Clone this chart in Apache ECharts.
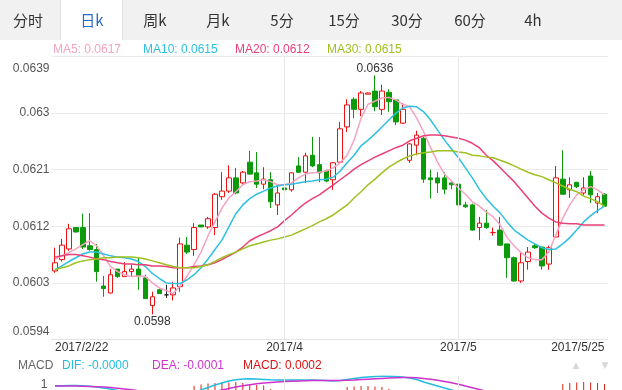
<!DOCTYPE html>
<html><head><meta charset="utf-8">
<script src="https://cdn.jsdelivr.net/npm/echarts@6/dist/echarts.min.js"></script>
<style>html,body{margin:0;padding:0;background:#fff}#c{width:622px;height:390px}</style>
</head><body><div id="c"></div>
<script>
const dates = ['2017/2/22','2017/2/23','2017/2/24','2017/2/25','2017/2/27','2017/2/28',
'2017/3/1','2017/3/2','2017/3/3','2017/3/4','2017/3/6','2017/3/7','2017/3/8','2017/3/9','2017/3/10','2017/3/11',
'2017/3/13','2017/3/14','2017/3/15','2017/3/16','2017/3/17','2017/3/18','2017/3/20','2017/3/21','2017/3/22','2017/3/23',
'2017/3/24','2017/3/25','2017/3/27','2017/3/28','2017/3/29','2017/3/30','2017/3/31',
'2017/4/1','2017/4/3','2017/4/4','2017/4/5','2017/4/6','2017/4/7','2017/4/8','2017/4/10','2017/4/11','2017/4/12',
'2017/4/13','2017/4/14','2017/4/15','2017/4/17','2017/4/18','2017/4/19','2017/4/20','2017/4/21','2017/4/22',
'2017/4/24','2017/4/25','2017/4/26','2017/4/27','2017/4/28','2017/4/29',
'2017/5/1','2017/5/2','2017/5/3','2017/5/4','2017/5/5','2017/5/6','2017/5/8','2017/5/9','2017/5/10','2017/5/11',
'2017/5/12','2017/5/13','2017/5/15','2017/5/16','2017/5/17','2017/5/18','2017/5/19','2017/5/20','2017/5/22',
'2017/5/23','2017/5/24','2017/5/25'];

// [open, close, low, high]
const ohlc = [
[0.06049,0.06062,0.06046,0.06086],[0.06067,0.06090,0.06064,0.06100],[0.06084,0.06116,0.06081,0.06124],
[0.06118,0.06111,0.06110,0.06118],[0.06118,0.06087,0.06084,0.06140],[0.06089,0.06083,0.06081,0.06141],
[0.06083,0.06048,0.06032,0.06092],[0.06025,0.06021,0.06008,0.06041],[0.06014,0.06043,0.06013,0.06052],
[0.06052,0.06040,0.06038,0.06052],[0.06040,0.06048,0.06040,0.06063],[0.06048,0.06052,0.06041,0.06059],
[0.06052,0.06040,0.06019,0.06070],[0.06038,0.06005,0.06005,0.06043],[0.05994,0.06008,0.05980,0.06016],
[0.06019,0.06013,0.06013,0.06021],[0.06011,0.06011,0.06006,0.06027],[0.06011,0.06022,0.06002,0.06032],
[0.06024,0.06092,0.06016,0.06102],[0.06090,0.06079,0.06076,0.06103],[0.06083,0.06118,0.06073,0.06125],
[0.06122,0.06119,0.06119,0.06122],[0.06119,0.06132,0.06116,0.06135],[0.06118,0.06171,0.06106,0.06173],
[0.06167,0.06176,0.06162,0.06206],[0.06176,0.06197,0.06173,0.06217],[0.06197,0.06173,0.06171,0.06213],
[0.06189,0.06206,0.06186,0.06208],[0.06222,0.06203,0.06202,0.06240],[0.06205,0.06187,0.06181,0.06238],
[0.06187,0.06195,0.06179,0.06214],[0.06194,0.06159,0.06149,0.06206],[0.06154,0.06173,0.06138,0.06186],
[0.06181,0.06178,0.06175,0.06183],[0.06178,0.06205,0.06175,0.06206],[0.06216,0.06206,0.06205,0.06230],
[0.06206,0.06232,0.06189,0.06237],[0.06233,0.06216,0.06214,0.06262],[0.06218,0.06205,0.06190,0.06262],
[0.06208,0.06192,0.06190,0.06210],[0.06194,0.06221,0.06178,0.06222],[0.06222,0.06275,0.06221,0.06286],
[0.06278,0.06313,0.06270,0.06322],[0.06322,0.06306,0.06292,0.06325],[0.06306,0.06332,0.06295,0.06335],
[0.06330,0.06332,0.06330,0.06333],[0.06335,0.06310,0.06303,0.06360],[0.06306,0.06335,0.06297,0.06345],
[0.06333,0.06318,0.06302,0.06338],[0.06321,0.06286,0.06281,0.06322],[0.06284,0.06306,0.06283,0.06316],
[0.06225,0.06251,0.06221,0.06252],[0.06249,0.06265,0.06233,0.06272],[0.06260,0.06195,0.06189,0.06262],
[0.06197,0.06194,0.06164,0.06210],[0.06197,0.06189,0.06173,0.06206],[0.06197,0.06179,0.06171,0.06206],
[0.06189,0.06186,0.06179,0.06190],[0.06187,0.06154,0.06151,0.06189],[0.06154,0.06151,0.06149,0.06159],
[0.06154,0.06114,0.06113,0.06156],[0.06118,0.06125,0.06098,0.06135],[0.06125,0.06118,0.06116,0.06146],
[0.06110,0.06110,0.06105,0.06118],[0.06114,0.06090,0.06089,0.06135],[0.06092,0.06070,0.06038,0.06092],
[0.06070,0.06033,0.06032,0.06072],[0.06033,0.06062,0.06030,0.06078],[0.06064,0.06079,0.06051,0.06087],
[0.06089,0.06086,0.06084,0.06092],[0.06087,0.06057,0.06051,0.06087],[0.06060,0.06086,0.06051,0.06089],
[0.06103,0.06197,0.06102,0.06216],[0.06195,0.06171,0.06170,0.06241],[0.06178,0.06186,0.06165,0.06198],
[0.06190,0.06183,0.06181,0.06190],[0.06173,0.06181,0.06170,0.06198],[0.06200,0.06170,0.06157,0.06208],
[0.06157,0.06167,0.06141,0.06173],[0.06171,0.06152,0.06151,0.06173]];

const dojiColors = {16:'#222222', 63:'#ee1111'};

const ma5 = [0.06068,0.06073,0.06078,0.06084,0.06091,0.06097,0.06089,0.06073,0.06056,0.06048,
0.06043,0.06040,0.06041,0.06040,0.06030,0.06022,0.06018,0.06013,0.06025,0.06041,
0.06059,0.06079,0.06105,0.06127,0.06149,0.06165,0.06175,0.06186,0.06191,0.06192,
0.06194,0.06191,0.06186,0.06186,0.06189,0.06197,0.06203,0.06205,0.06206,0.06208,
0.06213,0.06221,0.06233,0.06257,0.06292,0.06314,0.06319,0.06324,0.06325,0.06321,
0.06314,0.06310,0.06292,0.06270,0.06245,0.06222,0.06203,0.06192,0.06181,0.06171,
0.06159,0.06152,0.06143,0.06135,0.06122,0.06102,0.06089,0.06078,0.06070,0.06067,
0.06067,0.06079,0.06106,0.06133,0.06154,0.06170,0.06178,0.06183,0.06178,0.06170];

const ma10 = [0.06051,0.06057,0.06064,0.06070,0.06076,0.06079,0.06079,0.06076,0.06073,0.06071,
0.06070,0.06068,0.06064,0.06056,0.06045,0.06037,0.06030,0.06029,0.06029,0.06035,
0.06043,0.06054,0.06068,0.06083,0.06098,0.06119,0.06140,0.06154,0.06164,0.06171,
0.06176,0.06181,0.06184,0.06186,0.06187,0.06189,0.06191,0.06192,0.06194,0.06195,
0.06198,0.06208,0.06221,0.06233,0.06248,0.06257,0.06267,0.06278,0.06289,0.06300,
0.06308,0.06311,0.06310,0.06302,0.06289,0.06273,0.06257,0.06243,0.06229,0.06213,
0.06197,0.06179,0.06164,0.06152,0.06141,0.06127,0.06114,0.06106,0.06098,0.06092,
0.06086,0.06083,0.06084,0.06092,0.06102,0.06114,0.06127,0.06137,0.06145,0.06152];

const ma20 = [0.06071,0.06073,0.06075,0.06075,0.06073,0.06071,0.06068,0.06067,0.06064,0.06062,
0.06060,0.06060,0.06059,0.06059,0.06057,0.06057,0.06056,0.06054,0.06054,0.06054,
0.06056,0.06057,0.06059,0.06062,0.06067,0.06073,0.06079,0.06087,0.06097,0.06103,
0.06108,0.06113,0.06119,0.06129,0.06138,0.06148,0.06157,0.06164,0.06170,0.06178,
0.06186,0.06194,0.06202,0.06211,0.06218,0.06224,0.06230,0.06235,0.06240,0.06245,
0.06249,0.06256,0.06260,0.06264,0.06265,0.06265,0.06264,0.06262,0.06260,0.06257,
0.06252,0.06245,0.06233,0.06224,0.06213,0.06202,0.06191,0.06178,0.06165,0.06152,
0.06141,0.06133,0.06127,0.06125,0.06124,0.06124,0.06122,0.06122,0.06122,0.06122];

const ma30 = [0.06051,0.06054,0.06057,0.06062,0.06065,0.06067,0.06068,0.06070,0.06070,0.06071,
0.06071,0.06071,0.06070,0.06068,0.06065,0.06062,0.06059,0.06056,0.06054,0.06054,
0.06054,0.06056,0.06059,0.06064,0.06070,0.06075,0.06079,0.06084,0.06089,0.06092,
0.06095,0.06098,0.06100,0.06103,0.06106,0.06111,0.06116,0.06121,0.06127,0.06132,
0.06138,0.06146,0.06154,0.06165,0.06175,0.06186,0.06195,0.06205,0.06214,0.06221,
0.06227,0.06232,0.06235,0.06237,0.06238,0.06240,0.06240,0.06240,0.06238,0.06237,
0.06233,0.06232,0.06230,0.06229,0.06225,0.06221,0.06216,0.06211,0.06206,0.06202,
0.06199,0.06194,0.06189,0.06184,0.06179,0.06175,0.06168,0.06164,0.06159,0.06152];

// MACD panel (units of 0.0001)
const dif = [0.90,0.93,0.95,0.95,0.93,0.88,0.80,0.70,0.60,0.45,0.30,0.15,0.00,-0.15,-0.30,-0.40,-0.45,-0.40,-0.25,0.00,
0.25,0.50,0.75,1.00,1.20,1.40,1.52,1.60,1.62,1.60,1.56,1.52,1.50,1.50,1.50,1.50,1.50,1.50,1.48,1.44,
1.40,1.45,1.55,1.65,1.75,1.80,1.85,1.87,1.87,1.85,1.80,1.70,1.55,1.30,1.10,0.90,0.70,0.50,0.30,0.10,
-0.10,-0.30,-0.45,-0.60,-0.75,-0.90,-1.05,-1.15,-1.20,-1.20,-1.20,-1.15,-1.00,-0.80,-0.60,-0.45,-0.30,-0.20,-0.10,0.00];
const dea = [0.90,0.90,0.90,0.89,0.88,0.86,0.83,0.79,0.74,0.68,0.60,0.52,0.43,0.33,0.22,0.12,0.03,-0.03,-0.06,-0.06,
-0.02,0.08,0.20,0.35,0.50,0.65,0.80,0.92,1.03,1.12,1.20,1.26,1.30,1.34,1.37,1.40,1.42,1.44,1.45,1.45,
1.45,1.45,1.47,1.50,1.54,1.58,1.62,1.66,1.69,1.72,1.74,1.74,1.72,1.66,1.58,1.48,1.36,1.22,1.07,0.90,
0.73,0.55,0.37,0.20,0.03,-0.13,-0.28,-0.42,-0.55,-0.65,-0.73,-0.80,-0.85,-0.87,-0.86,-0.83,-0.78,-0.72,-0.68,-0.65];
const macd = [0.10,0.20,0.25,0.20,0.10,0.05,-0.10,-0.20,-0.30,-0.40,-0.50,-0.50,-0.60,-0.60,-0.70,-0.60,-0.50,-0.40,-0.20,0.30,
0.90,1.05,1.15,1.20,1.30,1.25,1.30,1.20,1.10,1.00,0.95,0.60,0.50,0.40,0.30,0.30,0.25,0.20,0.15,0.10,
0.20,0.50,0.80,0.85,0.90,0.90,0.85,0.80,0.60,0.40,0.20,-0.10,-0.40,-0.70,-0.90,-1.10,-1.20,-1.30,-1.30,-1.30,
-1.20,-1.10,-1.00,-0.90,-0.80,-0.70,-0.60,-0.50,-0.40,-0.30,-0.20,-0.10,0.30,1.10,1.20,1.25,1.30,1.25,1.20,1.10];

const maNames = ['MA5','MA10','MA20','MA30'];
const maColors = ['#f5a3c2','#2fc0df','#ea4077','#9ec11f'];
const tabs = ['分时','日k','周k','月k','5分','15分','30分','60分','4h'];
const tabX = [28,92,155,218,282,344,407,470,533];
const selectedTab = 1;
const xTickLabels = {0:'2017/2/22',33:'2017/4',58:'2017/5',79:'2017/5/25'};
const monthLines = ['2017/4/1','2017/5/1'];
const yMin = 0.0594, yMax = 0.0639, yStep = 0.0009;

const font = 'Liberation Sans, Arial, sans-serif';
const cjk = '"Noto Sans CJK SC", sans-serif';
const red = '#ee1111', green = '#0a9a0a';

const candleData = ohlc.map((d, i) => dojiColors[i] ? {
  value: d,
  itemStyle: {color: dojiColors[i], color0: dojiColors[i], borderColor: dojiColors[i], borderColor0: dojiColors[i], borderColorDoji: dojiColors[i]}
} : d);

const mas = [ma5, ma10, ma20, ma30];
const last = a => a[a.length - 1].toFixed(4);

const graphic = [
  {type:'rect', shape:{x:0,y:0,width:622,height:40}, style:{fill:'#f1f1f1'}, silent:true},
  {type:'rect', shape:{x:60,y:0,width:63,height:40}, style:{fill:'#ffffff'}, silent:true},
  {type:'line', shape:{x1:60.5,y1:0,x2:60.5,y2:40}, style:{stroke:'#e2e2e2',lineWidth:1}, silent:true},
  {type:'line', shape:{x1:122.5,y1:0,x2:122.5,y2:40}, style:{stroke:'#e2e2e2',lineWidth:1}, silent:true}
];
tabs.forEach((t, i) => graphic.push({type:'text', x: tabX[i], y: 20, silent:true,
  style:{text:t, fill: i === selectedTab ? '#2a6cc0' : '#333333', font:'15px ' + cjk, align:'center', verticalAlign:'middle'}}));
const legX = [53, 143, 235, 327];
maNames.forEach((n, i) => graphic.push({type:'text', x: legX[i], y: 50, silent:true,
  style:{text: n + ': ' + last(mas[i]), fill: maColors[i], font:'12px ' + font, verticalAlign:'middle'}}));
const macdLeg = [
  {t:'MACD', c:'#666666', x:18},
  {t:'DIF: -0.0000', c:'#22bde0', x:62},
  {t:'DEA: -0.0001', c:'#cc33cc', x:152},
  {t:'MACD: 0.0002', c:'#dd1111', x:243}
];
macdLeg.forEach(m => graphic.push({type:'text', x:m.x, y:366, silent:true,
  style:{text:m.t, fill:m.c, font:'12px ' + font, verticalAlign:'middle'}}));
graphic.push({type:'text', x:576, y:366, silent:true, style:{text:'▲', fill:'#d8d8d8', font:'9px DejaVu Sans', align:'center', verticalAlign:'middle'}});
graphic.push({type:'text', x:605, y:366, silent:true, style:{text:'▼', fill:'#d8d8d8', font:'9px DejaVu Sans', align:'center', verticalAlign:'middle'}});

const chart = echarts.init(document.getElementById('c'), null, {renderer:'canvas'});
chart.setOption({
  animation: false,
  backgroundColor: '#ffffff',
  graphic: graphic,
  grid: [
    {left: 51.5, top: 56.5, width: 556.5, height: 283, outerBoundsMode:'none', containLabel:false},
    {left: 51.5, top: 376, width: 556.5, height: 39, outerBoundsMode:'none', containLabel:false}
  ],
  xAxis: [
    {type:'category', data: dates, gridIndex:0, boundaryGap:true,
     axisLine:{lineStyle:{color:'#e4e4e4'}}, axisTick:{show:false}, splitLine:{show:false},
     axisLabel:{interval:(i)=> (i in xTickLabels), formatter:(v,i)=> xTickLabels[i] || '',
       color:'#333333', fontSize:12, fontFamily:font, margin:2, alignMinLabel:'left', alignMaxLabel:'right'}},
    {type:'category', data: dates, gridIndex:1, position:'top', boundaryGap:true,
     axisLine:{lineStyle:{color:'#e4e4e4'}}, axisTick:{show:false}, axisLabel:{show:false}, splitLine:{show:false}}
  ],
  yAxis: [
    {type:'value', gridIndex:0, min:yMin, max:yMax, interval:yStep, scale:true,
     axisLine:{show:false}, axisTick:{show:false},
     splitLine:{lineStyle:{color:'#ebebeb'}},
     axisLabel:{color:'#555555', fontSize:12, fontFamily:font, margin:2,
       formatter:(v)=> {
         const s = String(parseFloat(v.toFixed(4)));
         if (Math.abs(v - yMax) < 1e-9) return '{t|' + s + '}';
         if (Math.abs(v - yMin) < 1e-9) return '{b|' + s + '}';
         return s;
       },
       rich:{
         t:{color:'#555555', fontSize:12, fontFamily:font, padding:[6,0,0,0]},
         b:{color:'#555555', fontSize:12, fontFamily:font, padding:[0,0,2,0]}
       },
       verticalAlignMaxLabel:'top', verticalAlignMinLabel:'bottom'}},
    {type:'value', gridIndex:1, min:-2, max:1.9, interval:1,
     axisLine:{show:false}, axisTick:{show:false}, splitLine:{show:false},
     axisLabel:{color:'#555555', fontSize:12, fontFamily:font, margin:4,
       formatter:(v)=> Math.abs(v - 1) < 1e-9 ? '1' : ''}}
  ],
  series: [
    {type:'line', xAxisIndex:0, yAxisIndex:0, data:[], z:1, silent:true,
     markLine:{symbol:'none', silent:true, label:{show:false}, lineStyle:{color:'#e8e8e8', type:'solid', width:1},
       data: monthLines.map(d => ({xAxis:d}))}},
    {type:'line', xAxisIndex:1, yAxisIndex:1, data:[], z:1, silent:true,
     markLine:{symbol:'none', silent:true, label:{show:false}, lineStyle:{color:'#e8e8e8', type:'solid', width:1},
       data: monthLines.map(d => ({xAxis:d}))}},
    {type:'candlestick', name:'K', xAxisIndex:0, yAxisIndex:0, data: candleData, barWidth:5, z:2,
     itemStyle:{color:'#ffffff', color0:green, borderColor:red, borderColor0:green, borderWidth:1},
     markPoint:{symbol:'circle', symbolSize:0.01, silent:true,
       label:{show:true, color:'#333333', fontSize:12, fontFamily:font, formatter:(p)=> p.value.toFixed(4)},
       data:[
         {type:'max', valueDim:'highest', label:{position:'top', distance:1}},
         {type:'min', valueDim:'lowest', label:{position:'bottom', distance:1}}
       ]}},
    ...mas.map((a, i) => ({type:'line', name:maNames[i], xAxisIndex:0, yAxisIndex:0, data:a, z:3,
      showSymbol:false, symbol:'none', lineStyle:{color:maColors[i], width:1.5}, silent:true})),
    {type:'bar', name:'MACD', xAxisIndex:1, yAxisIndex:1, data: macd, barWidth:1, z:2, silent:true,
     itemStyle:{color:(p)=> p.value >= 0 ? '#dd2211' : '#0a9a0a'}},
    {type:'line', name:'DIF', xAxisIndex:1, yAxisIndex:1, data: dif, z:3, showSymbol:false, symbol:'none',
     lineStyle:{color:'#22bde0', width:1.5}, silent:true},
    {type:'line', name:'DEA', xAxisIndex:1, yAxisIndex:1, data: dea, z:3, showSymbol:false, symbol:'none',
     lineStyle:{color:'#cc33cc', width:1.5}, silent:true}
  ]
});
</script>
</body></html>
